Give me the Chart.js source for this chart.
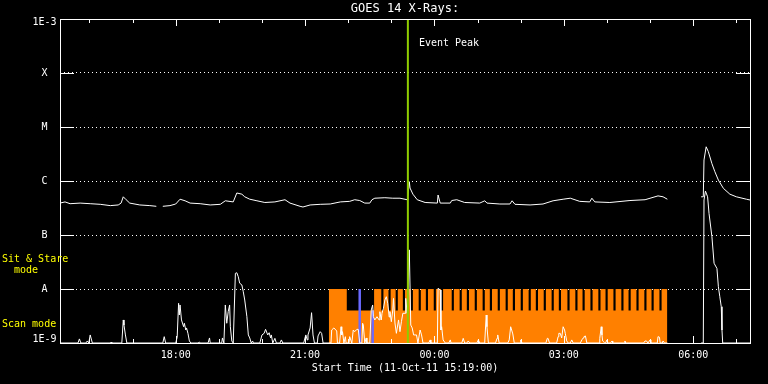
<!doctype html>
<html lang="en">
<head>
<meta charset="utf-8">
<title>GOES 14 X-Rays</title>
<script src="https://cdn.jsdelivr.net/npm/chart.js"></script>
<style>
  html, body { margin: 0; background: #000; }
  canvas { display: block; }
</style>
</head>
<body>
<canvas id="goes" width="768" height="384"></canvas>
<script>
// time is in minutes after the start time, 11-Oct-11 15:19:00
const START_MIN = 15 * 60 + 19;

const xTickMinutes = [161, 341, 521, 701, 881];
const xTickLabels = ['18:00', '21:00', '00:00', '03:00', '06:00'];

const yTickValues = [1e-9, 1e-8, 1e-7, 1e-6, 1e-5, 1e-4, 1e-3];
const yTickLabels = ['1E-9', 'A', 'B', 'C', 'M', 'X', '1E-3'];

// long channel (1-8 A), W/m^2, null = data gap
const longTime = [0, 7, 14, 28, 42, 56, 70, 81, 85, 88, 92, 97, 111, 125, 134, 137, 143, 153, 161, 167,
  174, 181, 195, 209, 223, 230, 241, 246, 253, 257, 264, 274, 285, 299, 313, 320, 334, 338, 348, 362,
  376, 390, 403, 410, 417, 424, 431, 434, 438, 452, 463, 473, 483, 484, 486, 487, 491, 497, 508, 525,
  526, 529, 543, 545, 552, 563, 584, 591, 594, 612, 626, 629, 633, 654, 672, 686, 700, 710, 723, 737,
  740, 744, 765, 793, 814, 832, 839, 845, 870, 892, 895, 896, 899, 902, 907, 911, 916, 923, 932, 941,
  955, 960];
const longFlux = [3.9e-7, 4.1e-7, 3.8e-7, 3.9e-7, 3.8e-7, 3.7e-7, 3.5e-7, 3.6e-7, 3.9e-7, 5.1e-7,
  4.5e-7, 3.9e-7, 3.6e-7, 3.5e-7, 3.4e-7, null, 3.4e-7, 3.5e-7, 3.75e-7, 4.6e-7,
  4.3e-7, 3.9e-7, 3.8e-7, 3.6e-7, 3.7e-7, 4.3e-7, 4.1e-7, 6.0e-7, 5.7e-7, 5.1e-7,
  4.6e-7, 4.3e-7, 4.0e-7, 4.1e-7, 4.5e-7, 3.9e-7, 3.4e-7, 3.3e-7, 3.6e-7, 3.7e-7,
  3.75e-7, 4.1e-7, 4.2e-7, 4.5e-7, 4.35e-7, 3.9e-7, 3.9e-7, 4.5e-7, 4.8e-7, 4.9e-7,
  4.8e-7, 4.8e-7, 4.5e-7, 5.1e-7, 9.7e-7, 7.4e-7, 5.7e-7, 4.5e-7, 4.0e-7, 3.9e-7,
  5.5e-7, 3.9e-7, 3.9e-7, 4.35e-7, 4.5e-7, 4.0e-7, 3.9e-7, 4.3e-7, 3.9e-7, 3.75e-7,
  3.75e-7, 4.3e-7, 3.7e-7, 3.6e-7, 3.75e-7, 4.3e-7, 4.6e-7, 4.8e-7, 4.2e-7, 4.1e-7,
  4.8e-7, 4.1e-7, 4.0e-7, 4.35e-7, 4.5e-7, 5.3e-7, 5.1e-7, 4.6e-7, null, 5.1e-7,
  5.1e-7, 2.45e-6, 4.3e-6, 3.5e-6, 2.1e-6, 1.5e-6, 1.04e-6, 7.3e-7, 5.7e-7, 5.1e-7,
  4.6e-7, 4.45e-7];

// short channel (0.5-4 A), mostly at the 1E-9 floor
const shortTime = [0, 25, 27, 29, 36, 38, 40, 42, 45, 70, 71, 72, 86, 88, 89, 91, 93, 143, 145, 147,
  161, 163, 165, 166, 167, 169, 172, 173, 175, 176, 178, 180, 182, 192, 194, 195, 206, 208, 209,
  225, 226, 228, 230, 232, 234, 236, 237, 239, 241, 244, 246, 248, 250, 253, 255, 257, 260, 262, 264, 266, 268, 269,
  278, 281, 284, 286, 289, 291, 293, 294, 296, 299, 301, 306, 308, 310,
  339, 342, 344, 345, 348, 350, 352, 354, 358, 359, 362, 364, 366, 377, 378, 381, 385, 386,
  389, 391, 392, 393, 395, 397, 398, 402, 403, 406, 408, 410, 413, 415, 417, 420, 421, 422, 424, 426, 427,
  431, 433, 435, 436, 438, 441, 444, 445, 447, 448, 450, 452, 454, 456, 458, 459, 461, 463, 464, 466,
  468, 471, 473, 475, 477, 480, 481, 483, 486, 488, 490, 492, 496, 498, 501, 503, 505,
  513, 515, 516, 525, 526, 529, 530, 531, 533, 536, 541, 543, 544, 559, 561, 563, 566, 568, 570,
  580, 582, 584, 590, 591, 593, 594, 596, 606, 608, 609, 611, 623, 625, 626, 627, 630, 632, 640, 641, 643,
  676, 678, 679, 681, 691, 693, 694, 696, 698, 700, 702, 703, 705, 707, 710, 712, 714,
  724, 726, 728, 729, 731, 733, 750, 751, 753, 754, 755, 758, 759, 761, 762, 766, 768, 769, 785, 786, 787,
  812, 814, 816, 818, 821, 822, 831, 832, 834, 835, 838, 839, 841, 845, 870,
  892, 895, 896, 898, 901, 903, 907, 910, 914, 916, 918, 920, 921, 922, 960];
const shortFlux = [1e-9, 1e-9, 1.19e-9, 1e-9, 1e-9, 1.09e-9, 1e-9, 1.41e-9, 1e-9, 1e-9, 1.04e-9, 1e-9,
  1e-9, 2.67e-9, 2.15e-9, 1.41e-9, 1e-9, 1e-9, 1.31e-9, 1e-9,
  1e-9, 1.28e-9, 5.43e-9, 3.3e-9, 5.06e-9, 2.67e-9, 2.0e-9, 2.32e-9, 1.74e-9, 1.9e-9, 1.51e-9, 1.09e-9, 1e-9,
  1e-9, 1.04e-9, 1e-9, 1e-9, 1.24e-9, 1e-9,
  1e-9, 1.24e-9, 1e-9, 5.06e-9, 2.32e-9, 3.8e-9, 5.06e-9, 2.0e-9, 1.09e-9, 1e-9, 1.95e-8, 2.0e-8, 1.69e-8,
  1.28e-8, 1.19e-8, 8.9e-9, 6.25e-9, 3.07e-9, 1.41e-9, 1.24e-9, 1e-9, 1.09e-9, 1e-9,
  1e-9, 1.41e-9, 1.51e-9, 1.79e-9, 1.41e-9, 1.55e-9, 1.24e-9, 1.41e-9, 1e-9, 1.22e-9, 1e-9, 1e-9, 1.14e-9, 1e-9,
  1e-9, 1.41e-9, 1.14e-9, 1.41e-9, 1.9e-9, 3.64e-9, 1.41e-9, 1e-9, 1e-9, 1.35e-9, 1.62e-9, 1.51e-9, 1e-9,
  1e-9, 1.74e-9, 1.9e-9, 1.67e-9, 1e-9,
  1e-9, 2.0e-9, 1.41e-9, 1.62e-9, 1e-9, 1.31e-9, 1e-9, 1e-9, 1.31e-9, 1e-9, 1.74e-9, 1.62e-9, 1.79e-9, 1.79e-9, 1e-9,
  1e-9, 2.32e-9, 2.15e-9, 1e-9, 1.24e-9, 1e-9,
  1e-9, 4.08e-9, 5.06e-9, 3.07e-9, 2.67e-9, 3.07e-9, 2.67e-9, 3.8e-9, 2.67e-9, 3.55e-9, 4.39e-9, 6.25e-9,
  7.2e-9, 5.43e-9, 3.03e-9, 3.8e-9, 2.48e-9, 4.08e-9, 6.7e-9, 2.35e-9,
  1.51e-9, 2.67e-9, 1.62e-9, 2.48e-9, 3.55e-9, 3.55e-9, 6.7e-9, 3.55e-9, 5.3e-8, 2.15e-9, 1.9e-9, 1.41e-9,
  1.41e-9, 1e-9, 1.74e-9, 1.41e-9, 1e-9,
  1e-9, 1.14e-9, 1e-9, 1e-9, 1.03e-8, 9.6e-9, 1.74e-9, 2.0e-9, 1.14e-9, 1e-9, 1e-9, 1.14e-9, 1e-9,
  1e-9, 1.22e-9, 1e-9, 1e-9, 1.09e-9, 1e-9,
  1e-9, 1.14e-9, 1e-9, 1e-9, 1.09e-9, 3.3e-9, 2.0e-9, 1e-9, 1e-9, 1.22e-9, 1.41e-9, 1e-9,
  1e-9, 1.14e-9, 1.14e-9, 2.0e-9, 1.47e-9, 1e-9, 1e-9, 1.14e-9, 1e-9,
  1e-9, 1.22e-9, 1.22e-9, 1e-9, 1e-9, 1.31e-9, 1.51e-9, 1.51e-9, 1.24e-9, 2.0e-9, 1.74e-9, 1.51e-9, 1.09e-9, 1e-9,
  1e-9, 1.14e-9, 1e-9,
  1e-9, 1.14e-9, 1.24e-9, 1.31e-9, 1.35e-9, 1e-9, 1e-9, 1.22e-9, 2.0e-9, 1.41e-9, 1.09e-9, 1e-9,
  1e-9, 1.14e-9, 1e-9, 1e-9, 1.09e-9, 1e-9, 1e-9, 1.09e-9, 1e-9,
  1e-9, 1.09e-9, 1.09e-9, 1e-9, 1.14e-9, 1e-9, 1e-9, 1.31e-9, 1.28e-9, 1e-9, 1e-9, 1.09e-9, 1e-9, 1e-9, null,
  1e-9, 1e-9, 4.45e-7, 6.5e-7, 5.1e-7, 2.5e-7, 9.3e-8, 3.0e-8, 2.4e-8, 1.1e-8, 7.2e-9, 4.7e-9, 1.74e-9, 1e-9, 1e-9];

// observing mode: 1 = sit & stare, 0 = scan
const modeHeight = [4e-9, 1e-8];
const modeTime = [374, 399, 437, 447, 450, 457, 460, 467, 470, 477, 480, 488, 491, 499, 502, 509, 512,
  520, 523, 530, 533, 545, 548, 556, 559, 566, 569, 577, 580, 588, 591, 598, 601, 609, 612, 620, 623,
  630, 633, 641, 644, 652, 655, 662, 665, 673, 676, 684, 687, 694, 697, 706, 709, 717, 720, 727, 730,
  738, 741, 749, 752, 759, 762, 770, 773, 781, 784, 791, 794, 802, 805, 813, 816, 823, 826, 834, 837, 845];
const modeState = [1, 0, 1, 0, 1, 0, 1, 0, 1, 0, 1, 0, 1, 0, 1, 0, 1,
  0, 1, 0, 1, 0, 1, 0, 1, 0, 1, 0, 1, 0, 1, 0, 1, 0, 1, 0, 1,
  0, 1, 0, 1, 0, 1, 0, 1, 0, 1, 0, 1, 0, 1, 0, 1, 0, 1, 0, 1,
  0, 1, 0, 1, 0, 1, 0, 1, 0, 1, 0, 1, 0, 1, 0, 1, 0, 1, 0, 1, 1];

const markerTime = [417, 435];
const markerTop = [1e-8, 4e-9];
const eventTime = 484;

const toPts = (t, v) => t.map((m, i) => ({x: m, y: v[i]}));

Chart.defaults.font.family = '"DejaVu Sans Mono", monospace';
Chart.defaults.color = '#fff';

// plot frame, inner tick marks and the annotations
const frame = {
  id: 'frame',
  afterDatasetsDraw(chart) {
    const {ctx, chartArea: a, scales: {x, y}} = chart;
    ctx.save();
    ctx.strokeStyle = '#fff';
    ctx.lineWidth = 1;
    ctx.beginPath();
    y.ticks.slice(1, -1).forEach(t => {
      const py = Math.round(y.getPixelForValue(t.value)) + 0.5;
      ctx.moveTo(a.left, py); ctx.lineTo(a.left + 14, py);
      ctx.moveTo(a.right - 14, py); ctx.lineTo(a.right, py);
    });
    for (let m = 60 - START_MIN % 60; m < x.max; m += 60) {
      const px = Math.round(x.getPixelForValue(m)) + 0.5;
      const len = ((START_MIN + m) / 60) % 3 === 0 ? 7 : 4;
      ctx.moveTo(px, a.top); ctx.lineTo(px, a.top + len);
      ctx.moveTo(px, a.bottom); ctx.lineTo(px, a.bottom - len);
    }
    ctx.stroke();
    ctx.strokeRect(a.left + 0.5, a.top + 0.5, a.right - a.left, a.bottom - a.top);

    ctx.font = '10px "DejaVu Sans Mono"';
    ctx.textBaseline = 'middle';
    ctx.fillStyle = '#fff';
    ctx.fillText('Event Peak', x.getPixelForValue(eventTime) + 11, a.top + 24);
    ctx.fillStyle = '#ff0';
    ctx.fillText('Sit & Stare', 2, y.getPixelForValue(3.6e-8));
    ctx.fillText('  mode', 2, y.getPixelForValue(2.25e-8));
    ctx.fillText('Scan mode', 2, y.getPixelForValue(2.25e-9));
    ctx.restore();
  }
};

new Chart(document.getElementById('goes'), {
  type: 'line',
  data: {
    datasets: [
      { data: [{x: eventTime, y: 1e-9}, {x: eventTime, y: 1e-3}], borderColor: '#8fcc00', borderWidth: 2 },
      { data: toPts(longTime, longFlux), borderColor: '#fff', borderWidth: 1 },
      { data: toPts(shortTime, shortFlux), borderColor: '#fff', borderWidth: 1 },
      ...markerTime.map((m, i) => ({
        data: [{x: m, y: 1e-9}, {x: m, y: markerTop[i]}], borderColor: '#6a6aff', borderWidth: 2.5
      })),
      { data: toPts(modeTime, modeState.map(s => modeHeight[s])), stepped: true, fill: 'start',
        backgroundColor: '#ff8000', borderWidth: 0 }
    ]
  },
  options: {
    responsive: false,
    animation: false,
    devicePixelRatio: 1,
    elements: { point: { radius: 0 }, line: { tension: 0 } },
    layout: { padding: { right: 18 } },
    plugins: {
      legend: { display: false },
      tooltip: { enabled: false },
      title: {
        display: true, text: 'GOES 14 X-Rays:', color: '#fff', fullSize: false,
        font: { size: 12, weight: 'normal' }, padding: { top: 2, bottom: 2.6 }
      }
    },
    scales: {
      x: {
        type: 'linear', min: 0, max: 960,
        afterFit: s => { s.height = 41; },
        afterBuildTicks: s => { s.ticks = xTickMinutes.map(v => ({value: v})); },
        grid: { display: false, drawTicks: false },
        border: { display: false },
        ticks: { color: '#fff', padding: 6.5, maxRotation: 0, autoSkip: false, font: { size: 10 },
          callback: (v, i) => xTickLabels[i] },
        title: { display: true, text: 'Start Time (11-Oct-11 15:19:00)', color: '#fff',
          font: { size: 10 }, padding: { top: 0, bottom: 9.5 } }
      },
      y: {
        type: 'logarithmic', min: 1e-9, max: 1e-3,
        afterFit: s => { s.width = 60; },
        afterBuildTicks: s => { s.ticks = yTickValues.map(v => ({value: v})); },
        grid: {
          drawTicks: false, lineWidth: 1,
          color: c => (c.index > 0 && c.index < yTickValues.length - 1) ? '#fff' : 'rgba(0,0,0,0)'
        },
        border: { display: false, dash: [1, 3] },
        ticks: {
          color: '#fff', padding: 3.5, crossAlign: 'center', autoSkip: false,
          font: { size: 10, lineHeight: 0.7 },
          // end labels sit inside the frame, like the original plot
          callback: (v, i) => i === 0 ? [yTickLabels[i], ''] :
            i === yTickLabels.length - 1 ? ['', yTickLabels[i]] : yTickLabels[i]
        }
      }
    }
  },
  plugins: [frame]
});
</script>
</body>
</html>
